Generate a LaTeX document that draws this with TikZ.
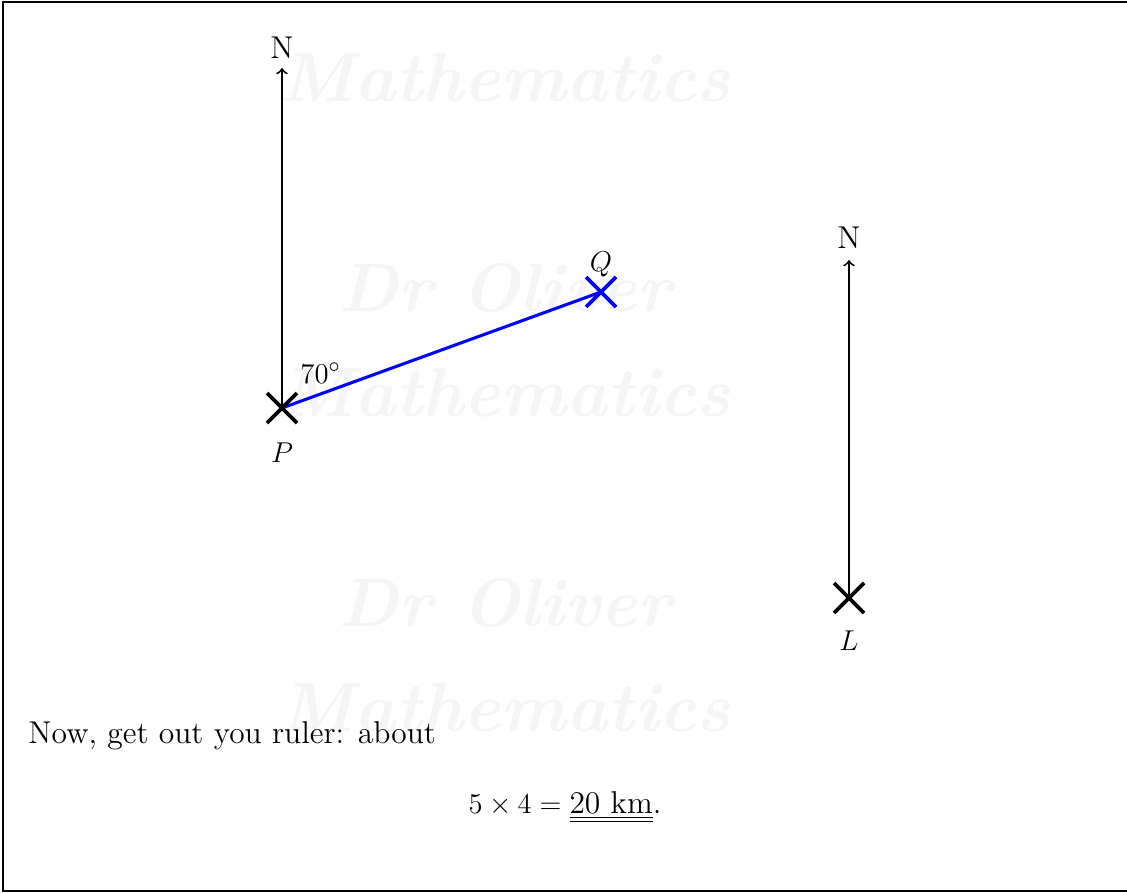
\documentclass[tikz,border=0pt]{standalone}
\usepackage{graphicx}
\begin{document}
\begin{tikzpicture}[x=0.0147059cm, y=-0.0147059cm,
  every node/.style={font=\fontsize{13.2}{16}\selectfont},
  wm/.style={text=black!4, inner sep=0pt, font=\fontsize{12}{14}\selectfont\bfseries\itshape},
  crossmark/.style={line width=1.6pt},
  northline/.style={line width=0.8pt, ->},
  bearing/.style={blue, line width=1.3pt},
  lab/.style={anchor=base, inner sep=0pt}]
\useasboundingbox (0,0) rectangle (1127,893);
% watermark
\node[wm] (w1) at (505,78) {\resizebox{6.62cm}{!}{Mathematics}};
\node[wm] (w2) at (505,288) {\resizebox{4.9cm}{!}{Dr Oliver}};
\node[wm] (w3) at (505,393) {\resizebox{6.62cm}{!}{Mathematics}};
\node[wm] (w4) at (505,603) {\resizebox{4.9cm}{!}{Dr Oliver}};
\node[wm] (w5) at (505,708) {\resizebox{6.62cm}{!}{Mathematics}};
\node[wm] (w6) at (505,918) {\resizebox{4.9cm}{!}{Dr Oliver}};
% frame
\draw[line width=0.6pt] (1130,2) -- (3,2) -- (3,891) -- (1130,891);
% points
\coordinate (P) at (282,408);
\coordinate (Q) at (601,292);
\coordinate (L) at (849,598);
\coordinate (PN) at (282,68);
\coordinate (LN) at (849,260);
\draw[northline] (P) -- (PN);
\draw[northline] (L) -- (LN);
\node[lab] (nP) at (282,58) {N};
\node[lab] (nL) at (849,248) {N};
\draw[bearing] (P) -- (Q);
\draw[crossmark] (P) ++(-15,-15) -- ++(30,30) (P) ++(-15,15) -- ++(30,-30);
\draw[crossmark] (L) ++(-15,-15) -- ++(30,30) (L) ++(-15,15) -- ++(30,-30);
\draw[crossmark, blue] (Q) ++(-15,-15) -- ++(30,30) (Q) ++(-15,15) -- ++(30,-30);
\node[lab] (lP) at (282,462) {$P$};
\node[lab] (lQ) at (601,271) {$Q$};
\node[lab] (lL) at (849,650) {$L$};
\node[anchor=base west, inner sep=0pt] (ang) at (300,383) {$70^\circ$};
% text
\node[anchor=base west, inner sep=0pt] (t1) at (28,743) {Now, get out you ruler: about};
\node[anchor=base, inner sep=0pt] (t2) at (565,813) {$5 \times 4 = \underline{\underline{\mbox{20 km}}}$.};
\end{tikzpicture}
\end{document}
